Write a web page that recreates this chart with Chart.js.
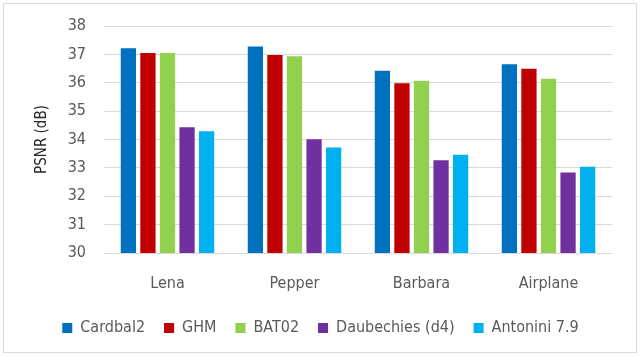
<!DOCTYPE html>
<html>
<head>
<meta charset="utf-8">
<script src="https://cdn.jsdelivr.net/npm/chart.js@4"></script>
<style>
  body { margin: 0; background: #fff; }
  #box { position: absolute; left: 3px; top: 3px; width: 632px; height: 348px; border: 1px solid #d9d9d9; }
</style>
</head>
<body>
<div id="box"><canvas id="myChart" width="632" height="348"></canvas></div>
<script>
var images = ['Lena', 'Pepper', 'Barbara', 'Airplane'];
var cardbal2 = [37.22, 37.28, 36.42, 36.65];
var ghm = [37.05, 36.98, 35.98, 36.49];
var bat02 = [37.05, 36.93, 36.07, 36.14];
var daubechies = [34.43, 34.01, 33.27, 32.84];
var antonini = [34.29, 33.72, 33.46, 33.04];

var fontName = "'DejaVu Sans Condensed', 'DejaVu Sans', sans-serif";

var ctx = document.getElementById('myChart');
var myChart = new Chart(ctx, {
  type: 'bar',
  data: {
    labels: images,
    datasets: [
      { label: 'Cardbal2', data: cardbal2, backgroundColor: '#0070C0' },
      { label: 'GHM', data: ghm, backgroundColor: '#C00000' },
      { label: 'BAT02', data: bat02, backgroundColor: '#92D050' },
      { label: 'Daubechies (d4)', data: daubechies, backgroundColor: '#7030A0' },
      { label: 'Antonini 7.9', data: antonini, backgroundColor: '#00B0F0' }
    ]
  },
  options: {
    responsive: false,
    animation: false,
    datasets: { bar: { categoryPercentage: 0.77, barPercentage: 0.78 } },
    layout: { padding: { left: 25, right: 24, top: 22, bottom: 6 } },
    plugins: {
      tooltip: { enabled: false },
      legend: {
        position: 'bottom',
        labels: {
          boxWidth: 10, boxHeight: 10, padding: 19,
          color: '#595959',
          font: { family: fontName, size: 16 }
        }
      }
    },
    scales: {
      x: {
        grid: { display: false },
        border: { display: false },
        ticks: { color: '#595959', padding: 13, font: { family: fontName, size: 16 } },
        afterFit: function (s) { s.height = 48; }
      },
      y: {
        min: 30, max: 38,
        ticks: { stepSize: 1, color: '#595959', padding: 18, font: { family: fontName, size: 16 } },
        grid: { color: '#d9d9d9', drawTicks: false },
        border: { display: false },
        title: { display: true, text: 'PSNR (dB)', color: '#262626', padding: 4, font: { family: fontName, size: 15 } },
        afterFit: function (s) { s.width = 75; s.paddingTop = 0; s.paddingBottom = 0; }
      }
    }
  }
});
</script>
</body>
</html>
